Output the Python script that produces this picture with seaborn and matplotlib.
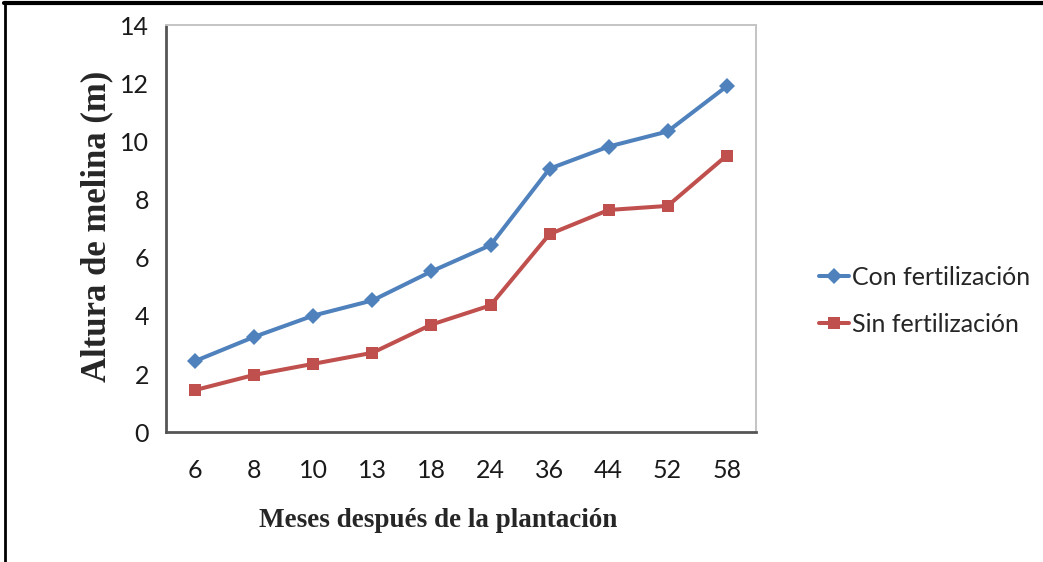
import matplotlib
matplotlib.use("Agg")
import matplotlib.pyplot as plt
from matplotlib.lines import Line2D
import seaborn as sns
import pandas as pd

# Months after planting (categorical axis) and mean melina height (m)
meses = ["6", "8", "10", "13", "18", "24", "36", "44", "52", "58"]
con_fertilizacion = [2.45, 3.28, 4.01, 4.53, 5.53, 6.43, 9.06, 9.82, 10.34, 11.89]
sin_fertilizacion = [1.45, 1.97, 2.35, 2.73, 3.70, 4.36, 6.81, 7.64, 7.78, 9.51]
series = ["Con fertilización", "Sin fertilización"]
y_ticks = [0, 2, 4, 6, 8, 10, 12, 14]

df = pd.DataFrame({
    "mes": meses * 2,
    "altura": con_fertilizacion + sin_fertilizacion,
    "tratamiento": [series[0]] * len(meses) + [series[1]] * len(meses),
})

sns.set_theme(style="white")
plt.rcParams["font.family"] = ["Lato", "DejaVu Sans"]

fig = plt.figure(figsize=(10.43, 5.62), dpi=100)
ax = fig.add_axes([0.159, 0.231, 0.566, 0.7245])

palette = {series[0]: "#4F81BD", series[1]: "#C0504D"}
markers = {series[0]: "D", series[1]: "s"}
sns.lineplot(data=df, x="mes", y="altura", hue="tratamiento", style="tratamiento",
             markers=markers, dashes=False, palette=palette, sort=False,
             linewidth=2.9, markersize=8.5, markeredgewidth=0, ax=ax)

ax.set_xlim(-0.5, len(meses) - 0.5)
ax.set_ylim(0, 14)
ax.set_yticks(y_ticks)
ax.set_yticklabels([str(v) for v in y_ticks])
ax.tick_params(axis="y", length=0, pad=12, labelsize=18, colors="#1a1a1a")
ax.tick_params(axis="x", length=0, pad=19, labelsize=18, colors="#1a1a1a")

for side in ("left", "bottom"):
    ax.spines[side].set_color("#555555")
    ax.spines[side].set_linewidth(2.0)
for side in ("top", "right"):
    ax.spines[side].set_color("#c4c4c4")
    ax.spines[side].set_linewidth(1.4)

serif_bold = dict(family=["Liberation Serif", "DejaVu Serif"], weight="bold")
ax.set_xlabel("Meses después de la plantación", size=19.5, **serif_bold)
ax.set_ylabel("Altura de melina (m)", size=25, **serif_bold)
ax.xaxis.set_label_coords(0.461, -0.218)
ax.yaxis.set_label_coords(-0.117, 0.505)
ax.xaxis.label.set_va("center")
ax.yaxis.label.set_va("center")

handles, labels = ax.get_legend_handles_labels()
ax.legend(handles, labels, loc="center left", bbox_to_anchor=(0.764, 0.465),
          bbox_transform=fig.transFigure, frameon=False, fontsize=18,
          handlelength=1.2, handletextpad=0.1, labelspacing=0.95)

# Outer frame lines along the left and top edges
fig.add_artist(Line2D([0.005, 0.005], [0.0, 0.995], transform=fig.transFigure,
                      color="black", linewidth=2.0))
fig.add_artist(Line2D([0.004, 1.0], [0.995, 0.995], transform=fig.transFigure,
                      color="black", linewidth=3.0))

fig.savefig("out.png", dpi=100, facecolor="white")
